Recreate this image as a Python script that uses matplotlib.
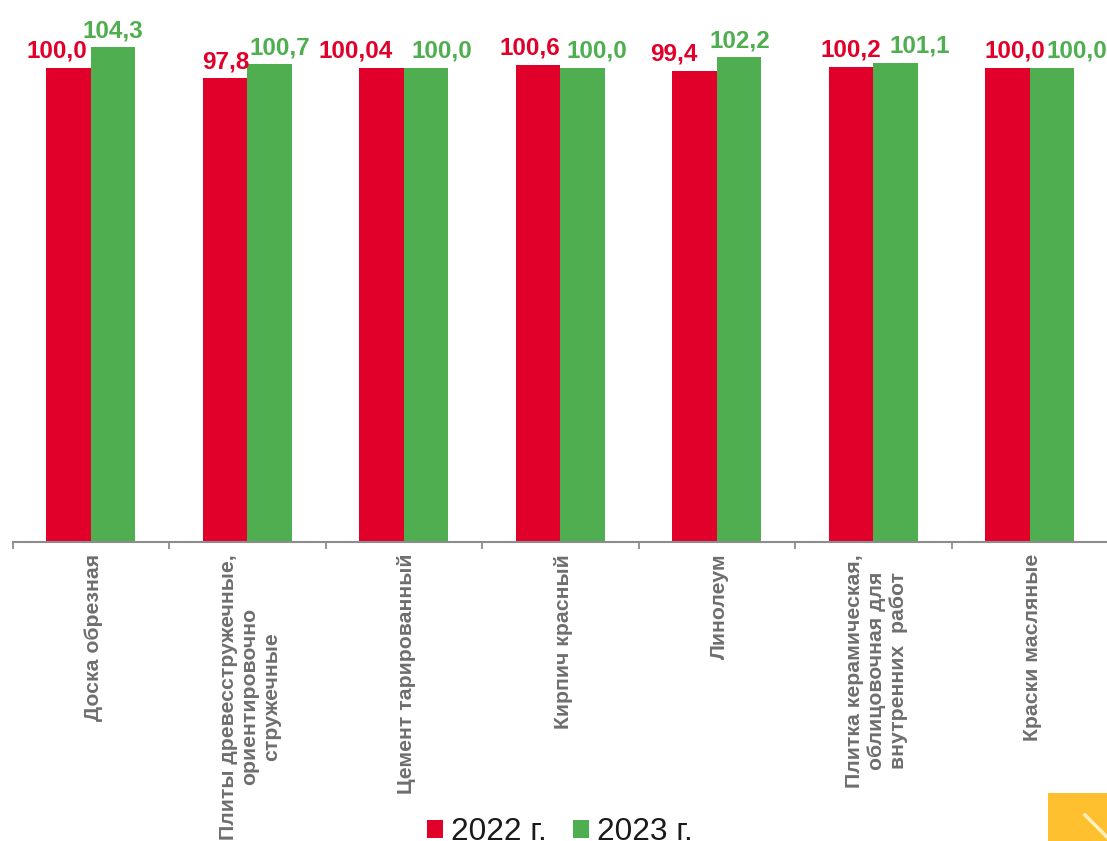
import numpy as np
import matplotlib
matplotlib.use('Agg')
import matplotlib.pyplot as plt
from matplotlib.patches import Rectangle

plt.rcParams['font.family'] = ['Liberation Sans', 'DejaVu Sans']

categories = ['Доска обрезная',
              'Плиты древесстружечные,\nориентировочно\nстружечные',
              'Цемент тарированный',
              'Кирпич красный',
              'Линолеум',
              'Плитка керамическая,\nоблицовочная для\nвнутренних  работ',
              'Краски масляные']
values_2022 = [100.0, 97.8, 100.04, 100.6, 99.4, 100.2, 100.0]
values_2023 = [104.3, 100.7, 100.0, 100.0, 102.2, 101.1, 100.0]
labels_2022 = ['100,0', '97,8', '100,04', '100,6', '99,4', '100,2', '100,0']
labels_2023 = ['104,3', '100,7', '100,0', '100,0', '102,2', '101,1', '100,0']

# сдвиг подписей вправо-влево от центра столбика, в пикселях
shift_2022 = [-12, 1, -26, -8, -21, 0, 7]
shift_2023 = [0, 10, 16, 14, 1, 24, 25]

red = '#E0002A'
green = '#4FAE50'
grey = '#6E6E6E'

W, H = 1107, 841
fig = plt.figure(figsize=(W / 100, H / 100), dpi=100)
# ось x: от 12 пикселя до края, ноль на y=542
ax = fig.add_axes([12.5 / W, 1 - 542 / H, (1108 - 12.5) / W, 542 / H])

x = np.arange(len(categories))
bw = 0.285
ax.bar(x - bw / 2, values_2022, bw, color=red, label='2022 г.')
ax.bar(x + bw / 2, values_2023, bw, color=green, label='2023 г.')

for i in range(len(x)):
    ax.annotate(labels_2022[i], xy=(x[i] - bw / 2, values_2022[i]), xytext=(shift_2022[i], 5),
                textcoords='offset pixels', color=red, fontsize=17.5,
                fontweight='bold', ha='center', va='bottom')
    ax.annotate(labels_2023[i], xy=(x[i] + bw / 2, values_2023[i]), xytext=(shift_2023[i], 5),
                textcoords='offset pixels', color=green, fontsize=17.5,
                fontweight='bold', ha='center', va='bottom')

ax.set_xlim(-0.5, 6.5)
ax.set_ylim(0, 114.3)
ax.yaxis.set_visible(False)
for s in ['top', 'left', 'right']:
    ax.spines[s].set_visible(False)
ax.spines['bottom'].set_color('#8C8C8C')
ax.spines['bottom'].set_linewidth(1.5)
ax.set_xticks(np.arange(-0.5, 7, 1))
ax.set_xticklabels([])
ax.tick_params(axis='x', length=5, width=1.3, color='#8C8C8C')

for i, name in enumerate(categories):
    ax.annotate(name, xy=(x[i], 0), xycoords=('data', 'axes fraction'),
                xytext=(2, -8.5), textcoords='offset points', rotation=90,
                ha='center', va='top', multialignment='center',
                fontsize=15.3, fontweight='bold', color=grey, linespacing=1.2)

ax.legend(loc='center', bbox_to_anchor=(560 / W, 1 - 832 / H), bbox_transform=fig.transFigure,
          ncol=2, frameon=False, fontsize=22.8, handlelength=0.5, handleheight=0.5,
          handletextpad=0.25, columnspacing=0.85, borderpad=0, labelcolor='#1a1a1a')

# уголок внизу справа
fig.patches.append(Rectangle((1048 / W, 1 - 841 / H), 59 / W, 48 / H, transform=fig.transFigure,
                             facecolor='#FFC030', edgecolor='none'))
fig.lines.append(plt.Line2D([1085 / W, 1107 / W], [1 - 815 / H, 1 - 837 / H], transform=fig.transFigure,
                            color='#FFF0C0', lw=2.5))

fig.savefig('out.png', dpi=100)
